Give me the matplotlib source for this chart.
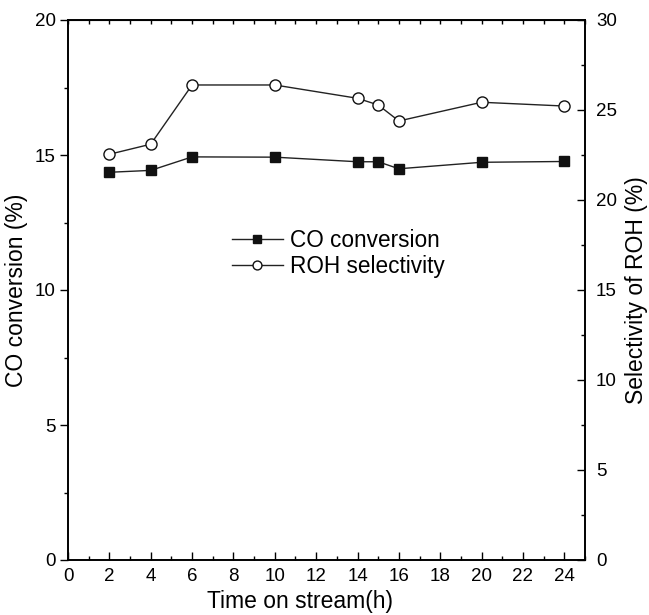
import numpy as np
import matplotlib
matplotlib.use("Agg")
import matplotlib.pyplot as plt
from matplotlib.ticker import MultipleLocator

plt.rcParams['font.family'] = ['Liberation Sans', 'DejaVu Sans']

# adatok a kepbol leolvasva
ido = [2, 4, 6, 10, 14, 15, 16, 20, 24]
co_konverzio = [14.36, 14.43, 14.93, 14.92, 14.75, 14.75, 14.49, 14.73, 14.76]
roh_szelektivitas = [22.54, 23.1, 26.39, 26.39, 25.65, 25.28, 24.39, 25.43, 25.22]

fig = plt.figure(figsize=(6.49, 6.15), dpi=100)
ax = fig.add_axes([68/649, 55/615, 517/649, 540/615])
ax2 = ax.twinx()

szin = '#222222'
l1, = ax.plot(ido, co_konverzio, '-s', color=szin, lw=1, ms=7.5,
              mfc='#111111', mec='#111111', label='CO conversion')
l2, = ax2.plot(ido, roh_szelektivitas, '-o', color=szin, lw=1, ms=8,
               mfc='white', mec='#111111', mew=1, label='ROH selectivity')

ax.set_xlim(0, 25)
ax.set_ylim(0, 20)
ax2.set_ylim(0, 30)

ax.xaxis.set_major_locator(MultipleLocator(2))
ax.xaxis.set_minor_locator(MultipleLocator(1))
ax.yaxis.set_major_locator(MultipleLocator(5))
ax.yaxis.set_minor_locator(MultipleLocator(2.5))
ax2.yaxis.set_major_locator(MultipleLocator(5))
ax2.yaxis.set_minor_locator(MultipleLocator(2.5))

ax.tick_params(axis='x', which='major', direction='in', length=6, width=1, labelsize=13.5, pad=6, top=False)
ax.tick_params(axis='x', which='minor', direction='in', length=3, width=1, top=False)
ax.tick_params(axis='y', which='major', direction='out', length=6, width=1, labelsize=13.5, pad=3)
ax.tick_params(axis='y', which='minor', direction='out', length=3, width=1)
ax2.tick_params(axis='y', which='major', direction='in', length=6, width=1, labelsize=13.5, pad=8)
ax2.tick_params(axis='y', which='minor', direction='in', length=3, width=1)

# felso tengely: kis rovatkak minden egysegnel
felso = ax.secondary_xaxis('top')
felso.set_xticks(np.arange(0, 26, 1))
felso.tick_params(direction='in', length=3, width=1, labeltop=False)
felso.set_xticklabels([])

for a in (ax, ax2):
    for s in a.spines.values():
        s.set_linewidth(1.2)

ax.set_xlabel('Time on stream(h)', fontsize=16.5)
ax.xaxis.set_label_coords((300 - 68) / 517, -0.056)
ax.set_ylabel('CO conversion (%)', fontsize=16.5, labelpad=5)
ax2.set_ylabel('Selectivity of ROH (%)', fontsize=16.5, labelpad=6)

ax2.legend([l1, l2], ['CO conversion', 'ROH selectivity'], frameon=False,
           loc='upper left', bbox_to_anchor=(164/517, 331/540), fontsize=16.3,
           handlelength=2.25, handletextpad=0.3, labelspacing=0.15,
           borderpad=0, borderaxespad=0, markerscale=0.8)

fig.savefig('out.png', dpi=100)
